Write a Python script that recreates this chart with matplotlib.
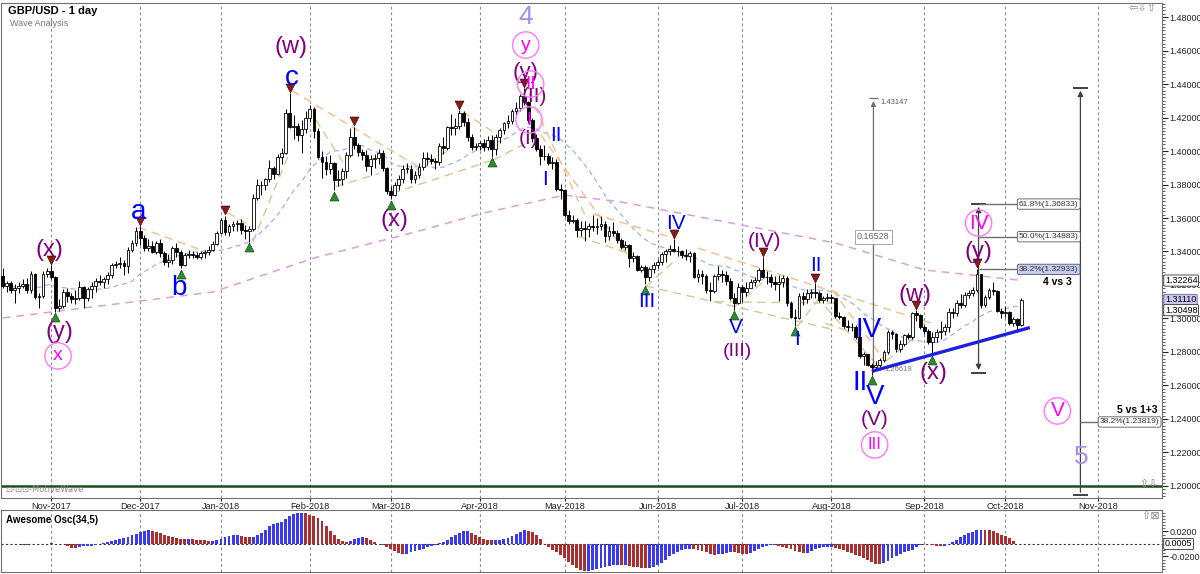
import matplotlib
matplotlib.use("Agg")
import matplotlib.pyplot as plt
import matplotlib.ticker as mticker
import numpy as np
import pandas as pd

plt.rcParams["font.family"] = ["Liberation Sans", "DejaVu Sans"]

# GBP/USD daily candles, 16 Oct 2017 .. 5 Oct 2018 (one line per week)
first_open = 1.3255
closes = [
    1.3195, 1.3210, 1.3170, 1.3180, 1.3195,
    1.3205, 1.3170, 1.3265, 1.3130, 1.3135,
    1.3265, 1.3285, 1.3250, 1.3065, 1.3075,
    1.3160, 1.3135, 1.3115, 1.3125, 1.3190,
    1.3120, 1.3175, 1.3195, 1.3225, 1.3220,
    1.3235, 1.3260, 1.3320, 1.3325, 1.3330,
    1.3315, 1.3410, 1.3450, 1.3525, 1.3480,
    1.3420, 1.3435, 1.3395, 1.3450, 1.3390,
    1.3335, 1.3350, 1.3420, 1.3395, 1.3320,
    1.3380, 1.3385, 1.3380, 1.3370, 1.3390,
    1.3395, 1.3410, 1.3445, 1.3510,
    1.3590, 1.3515, 1.3550, 1.3565,
    1.3570, 1.3530, 1.3525, 1.3535, 1.3720,
    1.3795, 1.3800, 1.3830, 1.3900, 1.3865,
    1.3965, 1.3990, 1.4225, 1.4145, 1.4150,
    1.4095, 1.4130, 1.4195, 1.4250, 1.4120,
    1.3965, 1.3935, 1.3890, 1.3930, 1.3825,
    1.3835, 1.3880, 1.3975, 1.4085, 1.4035,
    1.3995, 1.3975, 1.3910, 1.3950, 1.3960,
    1.3990, 1.3900, 1.3760, 1.3740, 1.3800,
    1.3830, 1.3895, 1.3895, 1.3830, 1.3855,
    1.3905, 1.3960, 1.3955, 1.3940, 1.3935,
    1.4030, 1.4020, 1.4145, 1.4140, 1.4150,
    1.4230, 1.4175, 1.4085, 1.4025, 1.4030,
    1.4045, 1.4025, 1.4065, 1.4015, 1.4085,
    1.4125, 1.4165, 1.4180, 1.4240, 1.4255,
    1.4330, 1.4290, 1.4185, 1.4080, 1.4015,
    1.3970, 1.3970, 1.3930, 1.3935, 1.3775,
    1.3765, 1.3615, 1.3585, 1.3590, 1.3530,
    1.3540, 1.3535, 1.3555, 1.3545, 1.3550,
    1.3565, 1.3490, 1.3525, 1.3510, 1.3470,
    1.3425, 1.3440, 1.3360, 1.3375, 1.3290,
    1.3305, 1.3250, 1.3295, 1.3320, 1.3340,
    1.3385, 1.3400, 1.3415, 1.3405, 1.3400,
    1.3380, 1.3375, 1.3390, 1.3250, 1.3265,
    1.3255, 1.3170, 1.3165, 1.3255, 1.3265,
    1.3260, 1.3225, 1.3120, 1.3095, 1.3190,
    1.3160, 1.3185, 1.3220, 1.3230, 1.3290,
    1.3250, 1.3245, 1.3220, 1.3205, 1.3215,
    1.3240, 1.3090, 1.3010, 1.3000, 1.3135,
    1.3115, 1.3150, 1.3160, 1.3155, 1.3110,
    1.3125, 1.3130, 1.3120, 1.3015, 1.3010,
    1.2955, 1.2950, 1.2950, 1.2890, 1.2775,
    1.2785, 1.2725, 1.2710, 1.2720, 1.2750,
    1.2800, 1.2920, 1.2905, 1.2815, 1.2850,
    1.2900, 1.2890, 1.3030, 1.3020, 1.2950,
    1.2925, 1.2860, 1.2890, 1.2920, 1.2925,
    1.2950, 1.3040, 1.3035, 1.3090, 1.3080,
    1.3140, 1.3150, 1.3170, 1.3265, 1.3080,
    1.3130, 1.3170, 1.3165, 1.3045, 1.3030,
    1.3040, 1.2975, 1.2995, 1.2960, 1.3111,
]
highs = [
    1.3300, 1.3225, 1.3225, 1.3205, 1.3215,
    1.3235, 1.3240, 1.3285, 1.3270, 1.3150,
    1.3285, 1.3300, 1.3320, 1.3255, 1.3115,
    1.3175, 1.3185, 1.3150, 1.3170, 1.3225,
    1.3195, 1.3190, 1.3220, 1.3240, 1.3260,
    1.3245, 1.3275, 1.3330, 1.3345, 1.3365,
    1.3350, 1.3425, 1.3470, 1.3545, 1.3550,
    1.3500, 1.3475, 1.3460, 1.3465, 1.3475,
    1.3400, 1.3385, 1.3435, 1.3450, 1.3410,
    1.3390, 1.3410, 1.3405, 1.3395, 1.3400,
    1.3410, 1.3430, 1.3460, 1.3520,
    1.3600, 1.3613, 1.3565, 1.3580,
    1.3590, 1.3595, 1.3560, 1.3550, 1.3745,
    1.3830, 1.3820, 1.3840, 1.3945, 1.3910,
    1.3980, 1.4020, 1.4250, 1.4345, 1.4215,
    1.4165, 1.4185, 1.4240, 1.4275, 1.4260,
    1.4135, 1.4000, 1.3970, 1.3975, 1.3935,
    1.3885, 1.3900, 1.3995, 1.4135, 1.4145,
    1.4050, 1.4010, 1.4005, 1.3975, 1.3985,
    1.4010, 1.4005, 1.3905, 1.3790, 1.3815,
    1.3855, 1.3915, 1.3930, 1.3915, 1.3880,
    1.3930, 1.3995, 1.3995, 1.3985, 1.3960,
    1.4050, 1.4085, 1.4150, 1.4220, 1.4200,
    1.4245, 1.4240, 1.4195, 1.4100, 1.4050,
    1.4060, 1.4070, 1.4090, 1.4095, 1.4100,
    1.4140, 1.4175, 1.4215, 1.4250, 1.4295,
    1.4340, 1.4377, 1.4300, 1.4200, 1.4100,
    1.4035, 1.4035, 1.3990, 1.3965, 1.3950,
    1.3805, 1.3775, 1.3645, 1.3620, 1.3600,
    1.3580, 1.3585, 1.3570, 1.3615, 1.3600,
    1.3610, 1.3580, 1.3555, 1.3575, 1.3530,
    1.3480, 1.3460, 1.3445, 1.3395, 1.3380,
    1.3320, 1.3320, 1.3310, 1.3335, 1.3355,
    1.3395, 1.3415, 1.3440, 1.3472, 1.3430,
    1.3410, 1.3415, 1.3400, 1.3395, 1.3295,
    1.3290, 1.3265, 1.3215, 1.3265, 1.3315,
    1.3290, 1.3285, 1.3240, 1.3150, 1.3210,
    1.3200, 1.3215, 1.3235, 1.3250, 1.3300,
    1.3365, 1.3285, 1.3265, 1.3255, 1.3260,
    1.3260, 1.3255, 1.3105, 1.3055, 1.3150,
    1.3160, 1.3175, 1.3175, 1.3212, 1.3165,
    1.3135, 1.3155, 1.3145, 1.3120, 1.3040,
    1.3015, 1.2990, 1.2975, 1.2960, 1.2895,
    1.2800, 1.2790, 1.2735, 1.2745, 1.2765,
    1.2810, 1.2930, 1.2930, 1.2915, 1.2870,
    1.2905, 1.2915, 1.3040, 1.3050, 1.3025,
    1.2960, 1.2935, 1.2920, 1.2940, 1.2985,
    1.2965, 1.3065, 1.3060, 1.3110, 1.3145,
    1.3160, 1.3170, 1.3190, 1.3298, 1.3265,
    1.3140, 1.3185, 1.3215, 1.3170, 1.3065,
    1.3075, 1.3045, 1.3010, 1.3005, 1.3125,
]
lows = [
    1.3180, 1.3160, 1.3150, 1.3090, 1.3150,
    1.3180, 1.3155, 1.3150, 1.3115, 1.3065,
    1.3125, 1.3245, 1.3235, 1.3040, 1.3045,
    1.3065, 1.3100, 1.3090, 1.3085, 1.3110,
    1.3065, 1.3105, 1.3125, 1.3160, 1.3200,
    1.3180, 1.3205, 1.3240, 1.3300, 1.3300,
    1.3260, 1.3270, 1.3395, 1.3430, 1.3440,
    1.3400, 1.3400, 1.3390, 1.3385, 1.3370,
    1.3320, 1.3305, 1.3325, 1.3370, 1.3300,
    1.3315, 1.3360, 1.3360, 1.3355, 1.3355,
    1.3360, 1.3380, 1.3400, 1.3440,
    1.3505, 1.3500, 1.3490, 1.3520,
    1.3525, 1.3505, 1.3475, 1.3458, 1.3520,
    1.3710, 1.3740, 1.3765, 1.3815, 1.3835,
    1.3855, 1.3925, 1.3980, 1.4140, 1.4070,
    1.4060, 1.3990, 1.4110, 1.4175, 1.4080,
    1.3955, 1.3840, 1.3855, 1.3860, 1.3765,
    1.3790, 1.3795, 1.3840, 1.3965, 1.4010,
    1.3970, 1.3945, 1.3880, 1.3855, 1.3900,
    1.3925, 1.3880, 1.3745, 1.3712, 1.3730,
    1.3765, 1.3810, 1.3870, 1.3810, 1.3810,
    1.3840, 1.3885, 1.3915, 1.3920, 1.3890,
    1.3915, 1.3980, 1.4005, 1.4095, 1.4095,
    1.4130, 1.4150, 1.4060, 1.4005, 1.4005,
    1.4005, 1.4000, 1.4005, 1.3965, 1.3975,
    1.4050, 1.4100, 1.4135, 1.4160, 1.4215,
    1.4240, 1.4275, 1.4170, 1.4055, 1.4000,
    1.3915, 1.3945, 1.3915, 1.3895, 1.3760,
    1.3715, 1.3605, 1.3565, 1.3570, 1.3485,
    1.3490, 1.3460, 1.3485, 1.3520, 1.3505,
    1.3530, 1.3455, 1.3470, 1.3490, 1.3450,
    1.3415, 1.3410, 1.3310, 1.3340, 1.3285,
    1.3280, 1.3205, 1.3225, 1.3270, 1.3300,
    1.3320, 1.3340, 1.3380, 1.3395, 1.3375,
    1.3360, 1.3350, 1.3340, 1.3240, 1.3215,
    1.3205, 1.3150, 1.3105, 1.3150, 1.3230,
    1.3220, 1.3200, 1.3110, 1.3050, 1.3085,
    1.3100, 1.3135, 1.3180, 1.3195, 1.3220,
    1.3240, 1.3205, 1.3190, 1.3170, 1.3105,
    1.3190, 1.3075, 1.3000, 1.2957, 1.2995,
    1.3080, 1.3095, 1.3120, 1.3125, 1.3100,
    1.3095, 1.3105, 1.3095, 1.3005, 1.2995,
    1.2945, 1.2925, 1.2925, 1.2880, 1.2765,
    1.2725, 1.2715, 1.2662, 1.2690, 1.2710,
    1.2740, 1.2790, 1.2880, 1.2800, 1.2800,
    1.2835, 1.2875, 1.2880, 1.2985, 1.2935,
    1.2905, 1.2850, 1.2785, 1.2860, 1.2875,
    1.2900, 1.2920, 1.3000, 1.3015, 1.3065,
    1.3070, 1.3120, 1.3135, 1.3160, 1.3065,
    1.3070, 1.3115, 1.3140, 1.3040, 1.3005,
    1.3010, 1.2960, 1.2955, 1.2922, 1.2955,
]
holidays = ["2017-12-25", "2018-01-01"]

# slow moving average
slow_ma_idx = [0, 52, 77, 102, 119, 139, 153, 206, 220, 228, 251]
slow_ma_val = [1.3003, 1.3158, 1.3361, 1.3516, 1.3630, 1.3737, 1.3696,
               1.3451, 1.3349, 1.3290, 1.3230]

# swing markers
swing_high_idx = [12, 34, 55, 71, 87, 113, 129, 166, 188, 201, 226, 241]
swing_low_idx = [13, 44, 61, 82, 96, 121, 159, 181, 196, 215, 230]

# dashed swing lines (idx0, price0, idx1, price1)
orange_lines = [
    (33.6, 1.3545, 50.3, 1.3399), (55.5, 1.3632, 61.9, 1.3548),
    (71.6, 1.4360, 103.4, 1.3897), (77.5, 1.4185, 84.9, 1.3906),
    (113.8, 1.4235, 121.2, 1.4116), (130.2, 1.4344, 144.2, 1.3608),
    (133.1, 1.4096, 154.9, 1.3369), (146.0, 1.3625, 166.0, 1.3480),
    (172.0, 1.3420, 230.0, 1.2970), (203.5, 1.3070, 215.9, 1.2733),
    (205.2, 1.3170, 218.4, 1.2742),
]
tan_lines = [
    (61.9, 1.3459, 70.9, 1.3988), (82.4, 1.3787, 93.1, 1.3866),
    (96.3, 1.3747, 121.3, 1.3946), (121.3, 1.3946, 129.4, 1.4046),
    (102.2, 1.3887, 110.4, 1.4006), (142.6, 1.3488, 154.9, 1.3389),
    (159.1, 1.3194, 206.0, 1.2931), (159.1, 1.3190, 166.9, 1.3359),
    (176.4, 1.3100, 206.0, 1.3091), (181.1, 1.3070, 189.1, 1.3240),
    (196.5, 1.2951, 202.3, 1.3130), (203.5, 1.2971, 208.5, 1.2931),
    (215.9, 1.2693, 225.8, 1.2891),
]
trend_line = (215.4, 1.2687, 253.7, 1.2943)

PURPLE = "#800080"
BLUE = "#0000FF"
LAV = "#A98CEB"
# wave labels: text, idx, price, colour, size
wave_labels = [
    ("(x)", 11.5, 1.3409, PURPLE, 17), ("(y)", 14.0, 1.2919, PURPLE, 17),
    ("a", 33.5, 1.3636, BLUE, 20), ("b", 43.6, 1.3182, BLUE, 20),
    ("c", 71.5, 1.4436, BLUE, 20), ("(w)", 71.3, 1.4621, PURPLE, 17),
    ("(x)", 97.0, 1.3588, PURPLE, 17), ("4", 129.4, 1.4800, LAV, 19),
    ("(y)", 129.4, 1.4466, PURPLE, 16), ("(II)", 131.6, 1.4328, PURPLE, 15),
    ("(I)", 130.2, 1.4076, PURPLE, 15), ("II", 136.8, 1.4090, BLUE, 15),
    ("I", 134.2, 1.3827, BLUE, 15), ("III", 159.3, 1.3099, BLUE, 15),
    ("IV", 166.5, 1.3570, BLUE, 15), ("V", 181.3, 1.2949, BLUE, 15),
    ("(III)", 181.8, 1.2800, PURPLE, 14), ("(IV)", 188.5, 1.3457, PURPLE, 15),
    ("I", 196.6, 1.2872, BLUE, 15), ("II", 201.1, 1.3319, BLUE, 15),
    ("IV", 214.2, 1.2931, BLUE, 20), ("II", 212.2, 1.2615, BLUE, 20),
    ("V", 215.9, 1.2531, BLUE, 20), ("(V)", 215.7, 1.2394, PURPLE, 15),
    ("(w)", 225.8, 1.3140, PURPLE, 17), ("(x)", 230.2, 1.2675, PURPLE, 17),
    ("(y)", 241.4, 1.3397, PURPLE, 17), ("5", 266.8, 1.2173, LAV, 19),
]
circled_labels = [
    ("x", 13.7, 1.2776, 14), ("y", 129.4, 1.4633, 14), ("II", 130.6, 1.4400, 14),
    ("I", 130.2, 1.4185, 14), ("III", 215.7, 1.2245, 12), ("IV", 241.4, 1.3570, 15),
    ("V", 260.9, 1.2448, 15),
]
fib_levels = ["61.8%", "50.0%", "38.2%"]
fib_prices = [1.36833, 1.34883, 1.32933]

# ---------------------------------------------------------------
days = pd.bdate_range("2017-10-16", "2018-11-30", freq="C", holidays=holidays)
c = np.array(closes)
h = np.array(highs)
l = np.array(lows)
n = len(c)
idx = np.arange(n)
o = np.concatenate([[first_open], c[:-1]])
h = np.maximum(h, np.maximum(o, c))
l = np.minimum(l, np.minimum(o, c))

month_pos, month_lab, prev = [], [], None
for k, d in enumerate(days):
    if (d.year, d.month) != prev:
        if k > 0:
            month_pos.append(k)
            month_lab.append(d.strftime("%b-%Y"))
        prev = (d.year, d.month)

XL = (-0.36, 286.8)
fig = plt.figure(figsize=(12, 5.74), dpi=100)
ax = fig.add_axes([0.001, 0.1324, 0.9674, 0.8624])
ax2 = fig.add_axes([0.001, 0.0035, 0.9674, 0.108])

grid_kw = dict(color="#8c8c8c", linestyle=(0, (2.5, 2.5)), linewidth=0.8)
for a in (ax, ax2):
    a.set_xlim(*XL)
    a.set_xticks(month_pos)
    for s in a.spines.values():
        s.set_color("#707070")
    for mp in month_pos:
        a.axvline(mp, zorder=0, **grid_kw)

# candles
up = c >= o
ax.vlines(idx, l, h, color="black", lw=0.7, zorder=3)
ax.bar(idx, np.maximum(np.abs(c - o), 0.00015), bottom=np.minimum(o, c), width=0.7,
       color=np.where(up, "white", "black"), edgecolor="black", linewidth=0.6, zorder=4)

# moving averages
fast_ma = pd.Series(c).rolling(20, min_periods=1).mean()
ax.plot(idx, fast_ma, color="#9DB4F2", lw=0.9, ls=(0, (4, 3)), zorder=2)
ax.plot(slow_ma_idx, slow_ma_val, color="#D9A0D9", lw=1.1, ls=(0, (5, 4)), zorder=2)

for x0, y0, x1, y1 in orange_lines:
    ax.plot([x0, x1], [y0, y1], color="#F5BE8A", lw=1.0, ls=(0, (6, 4)), zorder=2)
for x0, y0, x1, y1 in tan_lines:
    ax.plot([x0, x1], [y0, y1], color="#D2C896", lw=1.0, ls=(0, (6, 4)), zorder=2)
ax.plot(trend_line[0::2], trend_line[1::2], color="#1F1FE0", lw=2.4, zorder=5)

ax.axhline(1.20, color="#1B4D1B", lw=1.8, zorder=2)

# swing markers
ax.scatter(swing_high_idx, h[swing_high_idx] + 0.0032, marker="v", s=42,
           color="#8B1A1A", edgecolors="#3a0000", linewidths=0.4, zorder=6)
ax.scatter(swing_low_idx, l[swing_low_idx] - 0.0032, marker="^", s=42,
           color="#2E8B2E", edgecolors="#0a3a0a", linewidths=0.4, zorder=6)

# measurement 1 (Aug low to 1.43147)
ax.annotate("", xy=(215.4, 1.43147), xytext=(215.4, 1.26619),
            arrowprops=dict(arrowstyle="-|>", color="#6e6e6e", lw=0.9, mutation_scale=7), zorder=3)
ax.hlines(1.43147, 214.2, 216.6, color="#6e6e6e", lw=0.9)
ax.text(217.2, 1.4287, "1.43147", fontsize=5.5, color="#555555", va="center")
ax.text(218.2, 1.2693, "1.26619", fontsize=5.5, color="#777777", va="center")
ax.text(215.4, 1.3487, "0.16528", fontsize=6.5, color="#666666", ha="center", va="center",
        bbox=dict(boxstyle="square,pad=0.25", fc="white", ec="#999999", lw=0.6), zorder=6)

# measurement 2 (fib retracement of wave III)
fx = 241.4
ax.annotate("", xy=(fx, fib_prices[0]), xytext=(fx, 1.2675),
            arrowprops=dict(arrowstyle="<|-|>", color="#404040", lw=0.9, mutation_scale=8), zorder=5)
ax.hlines([fib_prices[0], 1.2675], fx - 1.8, fx + 1.8, color="#202020", lw=1.2, zorder=5)
for lev, pr in zip(fib_levels, fib_prices):
    ax.hlines(pr, fx, 251.0, color="#707070", lw=1.0, zorder=5)
    fc = "#C5CBF2" if lev == "38.2%" else "white"
    ax.text(251.4, pr, f"{lev}({pr:.5f})", fontsize=6, color="#333333", va="center",
            bbox=dict(boxstyle="round,pad=0.2", fc=fc, ec="#555555", lw=0.6), zorder=6)
ax.text(261.0, 1.3218, "4 vs 3", fontsize=7.5, fontweight="bold", ha="center", va="center")

# measurement 3 (wave 5 projection)
mx = 266.6
ax.annotate("", xy=(mx, 1.4377), xytext=(mx, 1.1946),
            arrowprops=dict(arrowstyle="-|>", color="#404040", lw=0.9, mutation_scale=8), zorder=5)
ax.hlines([1.4377, 1.1946], mx - 1.8, mx + 1.8, color="#202020", lw=1.2, zorder=5)
ax.hlines(1.23819, mx, 271.0, color="#707070", lw=1.0, zorder=5)
ax.text(271.4, 1.23819, "38.2%(1.23819)", fontsize=6, color="#333333", va="center",
        bbox=dict(boxstyle="round,pad=0.2", fc="white", ec="#555555", lw=0.6), zorder=6)
ax.text(280.7, 1.2455, "5 vs 1+3", fontsize=7.5, fontweight="bold", ha="center", va="center")

# wave labels
for t, xi, yp, col, sz in wave_labels:
    ax.text(xi, yp, t, color=col, fontsize=sz, ha="center", va="center", zorder=7)
ax.scatter([cl[1] for cl in circled_labels], [cl[2] for cl in circled_labels], s=360,
           facecolors="none", edgecolors="#FF77FF", linewidths=1.0, zorder=7)
for t, xi, yp, sz in circled_labels:
    ax.text(xi, yp, t, color="#FF00FF", fontsize=sz, ha="center", va="center", zorder=8)

# axes formatting (main)
ax.set_ylim(1.1928, 1.4884)
ax.yaxis.tick_right()
ax.yaxis.set_major_locator(mticker.MultipleLocator(0.02))
ax.yaxis.set_minor_locator(mticker.MultipleLocator(0.002))
ax.yaxis.set_major_formatter(mticker.FormatStrFormatter("%.5f"))
ax.tick_params(axis="y", which="major", length=4, labelsize=6.5, pad=1.5, colors="#222222")
ax.tick_params(axis="y", which="minor", length=2, color="#444444")
ax.set_xticklabels(month_lab)
ax.tick_params(axis="x", length=2.5, labelsize=6.6, pad=0.5, colors="#222222")

for val, fcol, ecol in [(1.32264, "white", "#333333"), (1.31110, "#C8C8F2", "#7060A0"),
                        (1.30498, "white", "#333333")]:
    ax.annotate(f"{val:.5f}", xy=(1.0, val), xycoords=("axes fraction", "data"),
                xytext=(2, 0), textcoords="offset points", fontsize=6.5, va="center",
                annotation_clip=False, zorder=9,
                bbox=dict(boxstyle="round,pad=0.12", fc=fcol, ec=ecol, lw=0.6))

# Awesome oscillator
med = pd.Series((h + l) / 2)
ao = (med.rolling(5, min_periods=1).mean() - med.rolling(34, min_periods=1).mean()).values
rising = np.concatenate([[True], ao[1:] >= ao[:-1]])
ax2.bar(idx, ao, width=0.72, color=np.where(rising, "#3A3AF0", "#A83030"), zorder=3)
ax2.axhline(0, color="#333333", lw=0.8, ls=(0, (2, 2)), zorder=2)
ax2.set_ylim(-0.0448, 0.0544)
ax2.yaxis.tick_right()
ax2.set_yticks([-0.02, 0.02])
ax2.set_yticklabels(["-0.0200", "0.0200"])
ax2.yaxis.set_minor_locator(mticker.MultipleLocator(0.005))
ax2.tick_params(axis="y", which="major", length=4, labelsize=6.5, pad=1.5, colors="#222222")
ax2.tick_params(axis="y", which="minor", length=2, color="#444444")
ax2.tick_params(axis="x", length=0, labelbottom=False)
ax2.annotate("0.0005", xy=(1.0, 0.0), xycoords=("axes fraction", "data"), xytext=(2, 0),
             textcoords="offset points", fontsize=6.5, va="center", annotation_clip=False,
             bbox=dict(boxstyle="round,pad=0.12", fc="white", ec="#333333", lw=0.6), zorder=9)

# header texts and window decorations
fig.text(8 / 1200, 1 - 11 / 574, "GBP/USD - 1 day", fontsize=8, fontweight="bold", va="center")
fig.text(10 / 1200, 1 - 23 / 574, "Wave Analysis", fontsize=6.5, color="#777777", va="center")
fig.text(6 / 1200, 1 - 520 / 574, "Awesome Osc(34,5)", fontsize=7, fontweight="bold", va="center")
fig.text(5 / 1200, 1 - 489 / 574, "\u22a1-\u22a1\u22a1-MotiveWave", fontsize=6, color="#888888",
         va="center", family=["DejaVu Sans"])
fig.text(1143 / 1200, 1 - 8 / 574, "\u21e6\u21e9\u21e7", fontsize=8, color="#8a8a8a",
         ha="center", va="center", family=["DejaVu Sans"])
fig.text(1148 / 1200, 1 - 484 / 574, "\u21e7\u21e9", fontsize=8, color="#8a8a8a",
         ha="center", va="center", family=["DejaVu Sans"])
fig.text(1150 / 1200, 1 - 516 / 574, "\u21e7\u22a0", fontsize=8, color="#8a8a8a",
         ha="center", va="center", family=["DejaVu Sans"])

fig.savefig("out.png", dpi=100)
